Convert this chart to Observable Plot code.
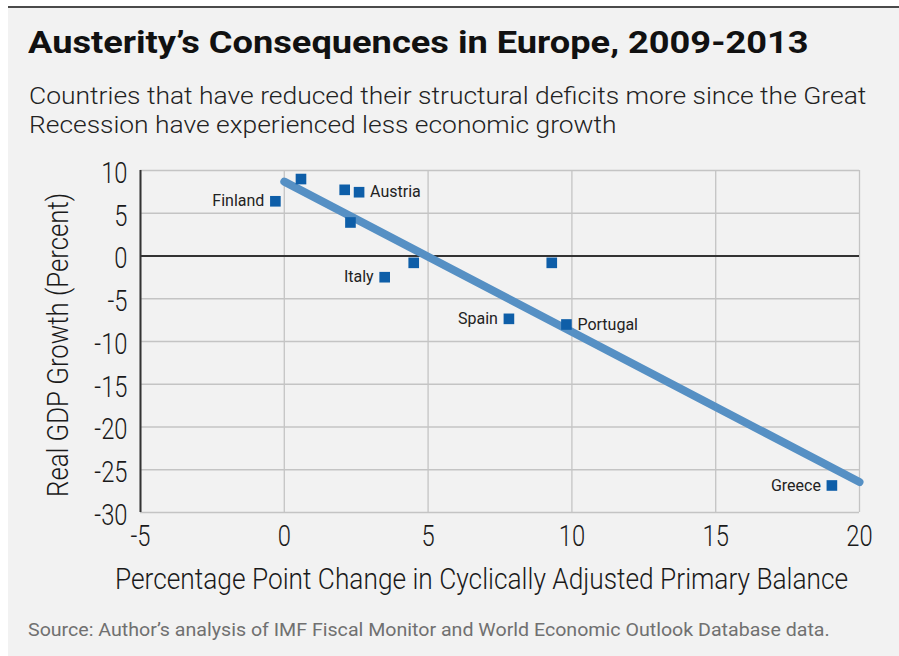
<!DOCTYPE html>
<html><head><meta charset="utf-8">
<script src="https://cdn.jsdelivr.net/npm/d3@7"></script>
<script src="https://cdn.jsdelivr.net/npm/@observablehq/plot@0.6"></script>
<style>
html,body{margin:0;padding:0;background:#fff;width:899px;height:656px;overflow:hidden;}
#panel{position:absolute;left:8px;top:6px;right:0;bottom:0;background:#f2f2f2;border-top:2px solid #4a4a4a;}
.t{position:absolute;white-space:nowrap;line-height:1;font-family:Roboto,sans-serif;}
.t span{display:inline-block;transform-origin:0 0;}
.rot{transform-origin:0 0;transform:rotate(-90deg);}
#chart{position:absolute;left:0;top:150px;}
</style></head><body>
<div id="panel"></div>
<div class="t" style="left:28px;top:27px;font-size:31px;font-weight:700;color:#111;"><span data-w="780">Austerity’s Consequences in Europe, 2009-2013</span></div>
<div class="t" style="left:29px;top:84px;font-size:24px;font-weight:300;color:#222;"><span data-w="837">Countries that have reduced their structural deficits more since the Great</span></div>
<div class="t" style="left:29px;top:113px;font-size:24px;font-weight:300;color:#222;"><span data-w="587">Recession have experienced less economic growth</span></div>
<div id="chart"></div>
<div class="t" style="left:115px;top:564.6px;font-size:29px;font-weight:300;color:#1a1a1a;"><span id="xtitle" data-w="733"></span></div>
<div class="t rot" style="left:43.6px;top:497px;font-size:29px;font-weight:300;color:#1a1a1a;"><span id="ytitle" data-w="304"></span></div>
<div class="t" style="left:28px;top:622px;font-size:17.5px;font-weight:400;color:#707070;"><span data-w="802">Source: Author’s analysis of IMF Fiscal Monitor and World Economic Outlook Database data.</span></div>
<script>
// Data
const countries = ["Finland", "", "", "Austria", "", "Italy", "", "", "Spain", "Portugal", "Greece"];
const balanceChange = [-0.31, 0.58, 2.10, 2.60, 2.30, 3.49, 4.50, 9.30, 7.81, 9.81, 19.04];
const gdpGrowth = [6.4, 9.0, 7.74, 7.46, 3.92, -2.48, -0.80, -0.80, -7.35, -8.01, -26.84];
const labelLeft = ["Finland", "Italy", "Spain", "Greece"];
const labelRight = ["Austria", "Portugal"];
const trendBalance = [0, 20];
const trendGrowth = [8.7, -26.44];
const xTicks = [-5, 0, 5, 10, 15, 20];
const yTicks = [10, 5, 0, -5, -10, -15, -20, -25, -30];
const xTitle = "Percentage Point Change in Cyclically Adjusted Primary Balance";
const yTitle = "Real GDP Growth (Percent)";

document.getElementById("xtitle").textContent = xTitle;
document.getElementById("ytitle").textContent = yTitle;

const pts = countries.map((c, i) => ({country: c, x: balanceChange[i], y: gdpGrowth[i]}));
const trend = trendBalance.map((x, i) => ({x, y: trendGrowth[i]}));

const plot = Plot.plot({
  width: 899, height: 470,
  marginLeft: 140, marginRight: 40, marginTop: 20, marginBottom: 108,
  style: {background: "transparent", fontFamily: "Roboto, sans-serif", overflow: "visible"},
  x: {domain: [-5, 20]},
  y: {domain: [-30, 10]},
  marks: [
    Plot.gridX(xTicks, {stroke: "#c4c4c4", strokeOpacity: 1, strokeWidth: 1.3}),
    Plot.gridY(yTicks, {stroke: "#c4c4c4", strokeOpacity: 1, strokeWidth: 1.3}),
    Plot.ruleY([0], {stroke: "#333", strokeWidth: 2}),
    Plot.ruleX([-5], {stroke: "#333", strokeWidth: 2}),
    Plot.axisX(xTicks, {tickSize: 0, tickPadding: 13, fontSize: 29, fontWeight: 300, fill: "#1a1a1a", label: null, tickFormat: d => String(d)}),
    Plot.axisY(yTicks, {tickSize: 0, tickPadding: 13, fontSize: 29, fontWeight: 300, fill: "#1a1a1a", label: null, dy: 3, tickFormat: d => String(d)}),
    Plot.line(trend, {x: "x", y: "y", stroke: "#5690c4", strokeWidth: 8, strokeLinecap: "round"}),
    Plot.dot(pts, {x: "x", y: "y", symbol: "square", r: 6, fill: "#0e5ea8", stroke: "none"}),
    Plot.text(pts.filter(d => labelLeft.includes(d.country)), {x: "x", y: "y", text: "country", textAnchor: "end", dx: -11, fontSize: 16, fill: "#222"}),
    Plot.text(pts.filter(d => labelRight.includes(d.country)), {x: "x", y: "y", text: "country", textAnchor: "start", dx: 11, fontSize: 16, fill: "#222"})
  ]
});
document.getElementById("chart").appendChild(plot);

// condense tick labels horizontally (reference uses a condensed face)
plot.querySelectorAll("text").forEach(el => {
  if (!/^[-−]?\d+$/.test(el.textContent.trim())) return;
  const b = el.getBBox();
  const anchor = getComputedStyle(el).textAnchor;
  const px = anchor === "end" ? b.x + b.width : anchor === "start" ? b.x : b.x + b.width / 2;
  const t = el.getAttribute("transform") || "";
  el.setAttribute("transform", `${t} translate(${px},0) scale(0.82,1) translate(${-px},0)`);
});

function fitAll() {
  document.querySelectorAll(".t span[data-w]").forEach(s => {
    s.style.transform = "none";
    const w = s.offsetWidth;
    if (w > 0) s.style.transform = `scaleX(${s.dataset.w / w})`;
  });
}
fitAll();
if (document.fonts && document.fonts.ready) document.fonts.ready.then(fitAll);
</script>
</body></html>
